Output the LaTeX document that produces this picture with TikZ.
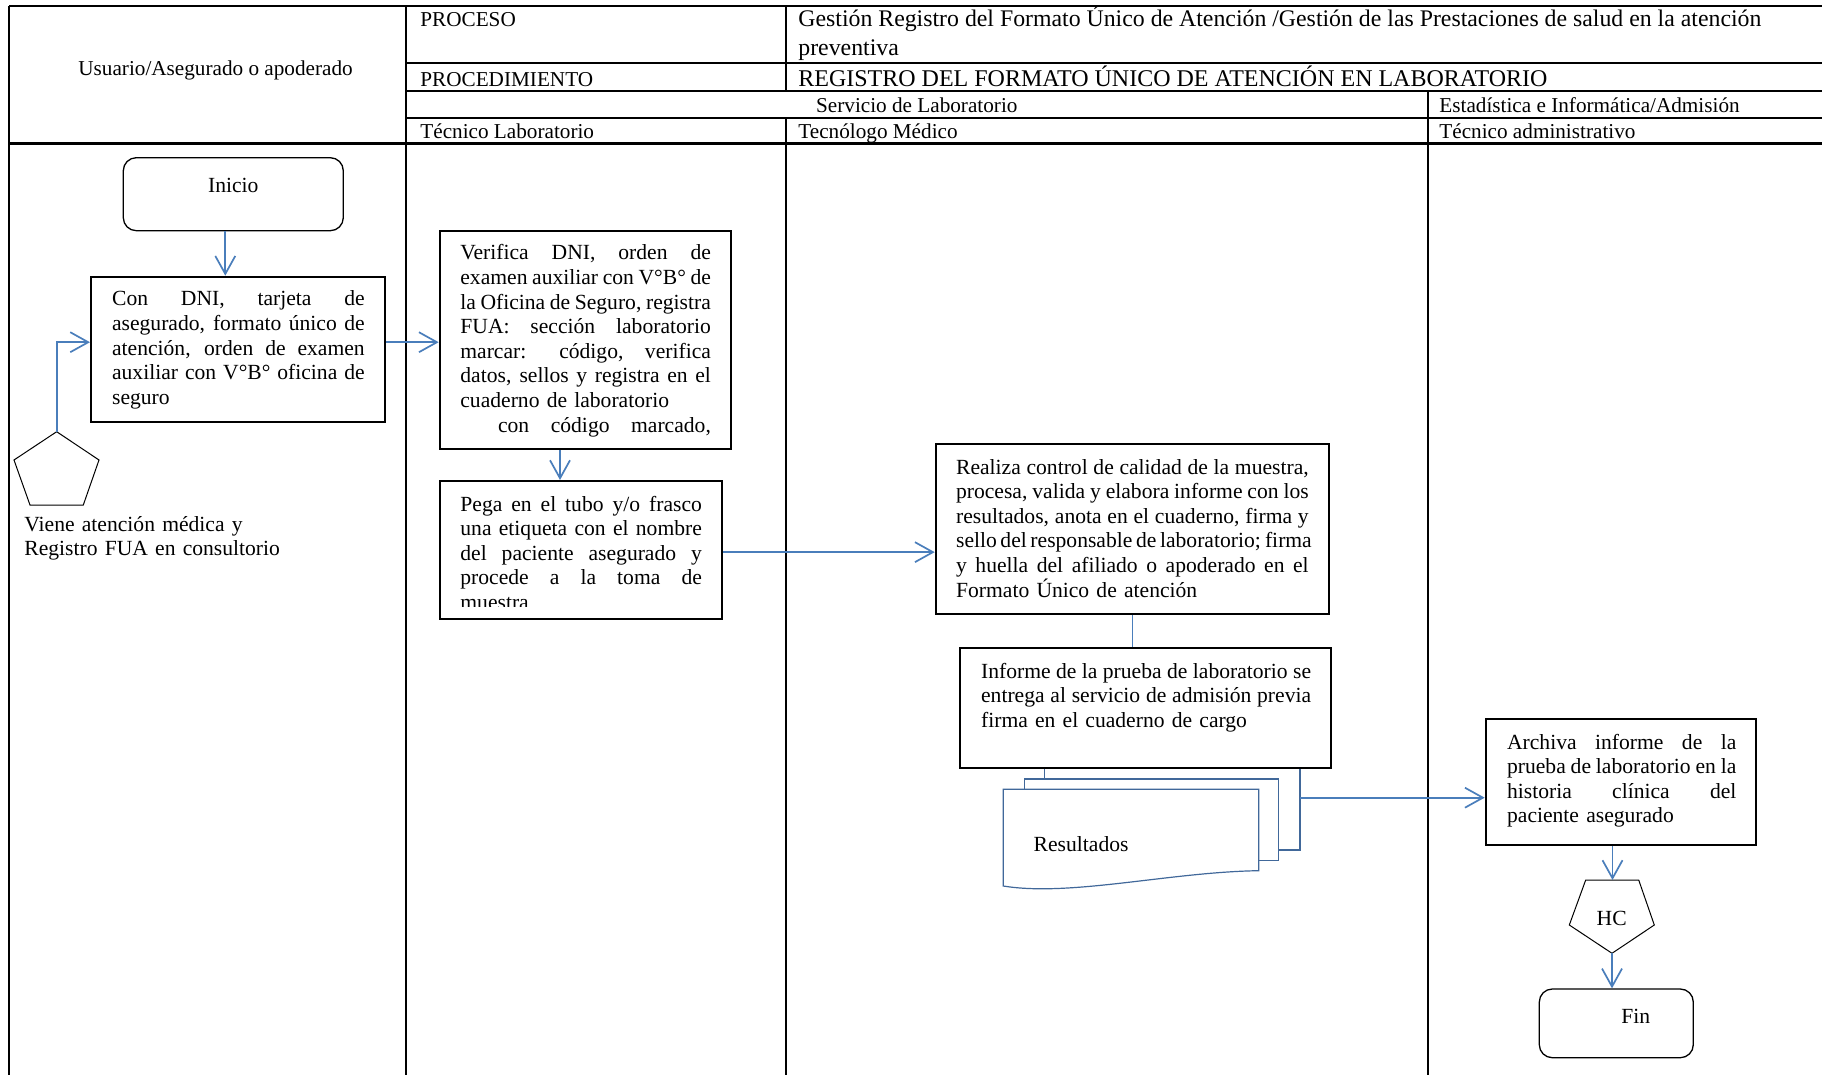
\documentclass[tikz,border=0pt]{standalone}
\usepackage{fontspec}
\setmainfont{Liberation Serif}
\usetikzlibrary{arrows.meta,fit}
\definecolor{flow}{HTML}{4A7EBB}
\definecolor{docline}{HTML}{41689A}
% one fully justified line of a paragraph, as wide as \jlw
% (stretchable interword spaces restored inside the line)
\newlength{\jlw}
\newcommand{\jl}[1]{{\spaceskip=0pt\xspaceskip=0pt\makebox[\jlw][s]{#1}}}

\begin{document}
\begin{tikzpicture}[x=0.5pt,y=-0.5pt,
  tline/.style={line width=1pt},
  tlinethick/.style={line width=1.5pt},
  box/.style={draw=black,line width=1pt,fill=white,inner sep=0pt},
  term/.style={draw=black,line width=0.65pt,rounded corners=6.5pt,inner sep=0pt},
  thinshape/.style={draw=black,line width=0.5pt},
  doc/.style={draw=docline,line width=0.6pt,fill=white},
  arr/.style={draw=flow,line width=0.85pt,-{Straight Barb[length=9pt,width=10pt]}},
  link/.style={draw=flow,line width=0.85pt},
  txt/.style={inner sep=0pt,font=\fontsize{10.8}{12.3}\selectfont},
  para/.style={txt,anchor=base west,align=left},
  jpar/.style={para,text width=#1,execute at begin node={\setlength{\jlw}{#1}}},
  hdr/.style={inner sep=0pt,font=\fontsize{10.6}{12.3}\selectfont,anchor=base west},
  hdrbig/.style={inner sep=0pt,font=\fontsize{12}{14.6}\selectfont,anchor=base west},
]
\fill[white] (0,0) rectangle (1822,1075);
\useasboundingbox (0,0) rectangle (1822,1075);

% ---------- table frame ----------
\draw[tline] (9,6) -- (1822,6);
\draw[tline] (9,6) -- (9,1075);
\draw[tline] (406,6) -- (406,1075);
\draw[tline] (785.5,6) -- (785.5,90.7);
\draw[tline] (785.5,117.7) -- (785.5,1075);
\draw[tline] (1428,90.7) -- (1428,1075);
\draw[tline] (406,62.7) -- (1822,62.7);
\draw[tline] (406,90.7) -- (1822,90.7);
\draw[tline] (406,117.7) -- (1822,117.7);
\draw[tlinethick] (9,144) -- (1822,144);

% ---------- header texts ----------
\node[hdr] (usr) at (78,76) {Usuario/Asegurado o apoderado};
\node[hdr] (proc) at (420,26.7) {PROCESO};
\node[hdr,font=\fontsize{11.9}{14.6}\selectfont] (procA) at (798,26.7) {Gestión Registro del Formato Único de Atención /Gestión de las Prestaciones de salud en la atención};
\node[hdr,font=\fontsize{11.9}{14.6}\selectfont] (procB) at (798,56) {preventiva};
\node[hdr] (pdm) at (420,86.5) {PROCEDIMIENTO};
\node[hdrbig] (pdmT) at (798,86.5) {REGISTRO DEL FORMATO ÚNICO DE ATENCIÓN EN LABORATORIO};
\node[hdr,anchor=base] (srv) at (916.8,113) {Servicio de Laboratorio};
\node[hdr] (est) at (1439,113) {Estadística e Informática/Admisión};
\node[hdr] (tl) at (420,138.5) {Técnico Laboratorio};
\node[hdr] (tm) at (798,138.5) {Tecnólogo Médico};
\node[hdr] (ta) at (1439,138.5) {Técnico administrativo};

% ---------- stacked documents ----------
\draw[doc] (1044.3,767.7) rectangle (1300,850);
\draw[doc] (1024.3,779) rectangle (1278.3,860.7);
\draw[doc] (1003.3,789.3) -- (1258.7,789.3) -- (1258.7,870.7)
  .. controls (1170,872) and (1070,897) .. (1003.3,886) -- cycle;
\node[txt,anchor=base west] (res) at (1033.3,851.7) {Resultados};
\coordinate (docR) at (1300,797.7);

% ---------- process boxes ----------
\node[term,fit={(123.3,157.7)(343.3,230.7)}] (start) {};
\node[txt,anchor=base] (startT) at (233.3,192.3) {Inicio};

\node[box,fit={(91,276.7)(385,421.7)}] (b1) {};
\node[jpar=126.3pt] (b1t) at (111.7,306)
  {\jl{Con DNI, tarjeta de}\\
   \jl{asegurado, formato único de}\\
   \jl{atención, orden de examen}\\
   \jl{auxiliar con V°B° oficina de}\\
   seguro};

\node[box,fit={(439.7,231)(730.7,449)}] (b2) {};
\node[jpar=125.25pt] (b2t) at (460,260)
  {\jl{Verifica DNI, orden de}\\
   \jl{examen auxiliar con V°B° de}\\
   \jl{la Oficina de Seguro, registra}\\
   \jl{FUA: sección laboratorio}\\
   \jl{marcar: código, verifica}\\
   \jl{datos, sellos y registra en el}\\
   cuaderno de laboratorio\\
   \jl{\hspace*{18.85pt}con código marcado,}};

\node[box,fit={(439.7,481)(722,619.3)}] (b3) {};
\begin{scope}
  \clip (439.7,481) rectangle (722,606);
  \node[jpar=120.75pt] (b3t) at (460,511)
    {\jl{Pega en el tubo y/o frasco}\\
     \jl{una etiqueta con el nombre}\\
     \jl{del paciente asegurado y}\\
     \jl{procede a la toma de}\\
     muestra};
\end{scope}

\node[box,fit={(935.7,444)(1329,614.3)}] (b4) {};
\node[jpar=176.3pt] (b4t) at (955.7,474)
  {\jl{Realiza control de calidad de la muestra,}\\
   \jl{procesa, valida y elabora informe con los}\\
   \jl{resultados, anota en el cuaderno, firma y}\\
   \jl{sello del responsable de laboratorio; firma}\\
   \jl{y huella del afiliado o apoderado en el}\\
   Formato Único de atención};

\node[box,fit={(960.3,648.3)(1330.7,767.7)}] (b5) {};
\node[jpar=165pt] (b5t) at (980.7,678)
  {\jl{Informe de la prueba de laboratorio se}\\
   \jl{entrega al servicio de admisión previa}\\
   firma en el cuaderno de cargo};

\node[box,fit={(1485.7,719.3)(1756,845.3)}] (b6) {};
\node[jpar=114.65pt] (b6t) at (1506.7,749)
  {\jl{Archiva informe de la}\\
   \jl{prueba de laboratorio en la}\\
   \jl{historia clínica del}\\
   paciente asegurado};

% ---------- connectors (off-page symbols) ----------
\draw[thinshape] (56.7,431.7) -- (99,460) -- (83.3,505) -- (30,505) -- (14,460) -- cycle;
\coordinate (pentTop) at (56.7,431.7);
\node[para,text width=170pt] (pentT) at (24,531)
  {Viene atención médica y\\Registro FUA en consultorio};

\draw[thinshape] (1585.7,880) -- (1638.7,880) -- (1654.3,925) -- (1612,953.3) -- (1569.3,925) -- cycle;
\coordinate (hcTop) at (1612.5,880);
\coordinate (hcBot) at (1612,953.3);
\node[txt,anchor=base] (hcT) at (1611.7,925.7) {HC};

\node[term,fit={(1539.3,989)(1693.3,1057.7)}] (fin) {};
\node[txt,anchor=base] (finT) at (1635.7,1023.3) {Fin};

% ---------- flow lines ----------
\draw[arr] ([xshift=-4pt]start.south) -- ([xshift=-4pt]start.south |- b1.north);
\draw[arr] (pentTop) |- ([yshift=3.5pt]b1.west);
\draw[arr] ([yshift=3.5pt]b1.east) -- ([yshift=3.5pt]b1.east -| b2.west);
\draw[arr] ([xshift=-12.6pt]b2.south) -- ([xshift=-12.6pt]b2.south |- b3.north);
\draw[arr] ([yshift=-1pt]b3.east) -- ([yshift=-1pt]b3.east -| b4.west);
\draw[link] (b4.south) -- (b4.south |- b5.north);
\draw[arr] (docR) -- (docR -| b6.west);
\draw[arr] (b6.south -| hcTop) -- (hcTop);
\draw[arr] (hcBot) -- (hcBot |- fin.north);
\end{tikzpicture}
\end{document}
